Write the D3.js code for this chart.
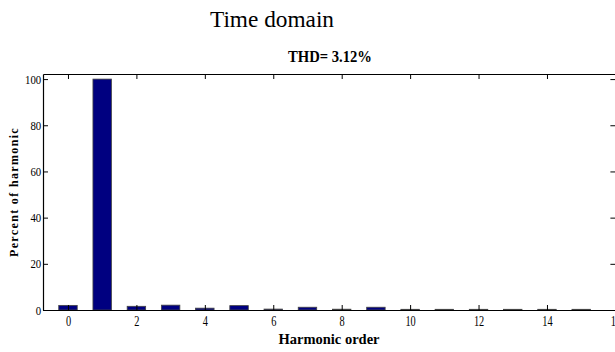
<!DOCTYPE html>
<html>
<head>
<meta charset="utf-8">
<script src="https://cdn.jsdelivr.net/npm/d3@7"></script>
<style>
  html, body { margin: 0; padding: 0; background: #fff; }
  svg { display: block; }
  text { font-family: "Liberation Serif", "Times New Roman", serif; fill: #000; }
</style>
</head>
<body>
<svg id="chart" width="615" height="352"></svg>
<script>
// Harmonic spectrum: order 0 (DC) up to 15, in percent of the fundamental
const orders = [0, 1, 2, 3, 4, 5, 6, 7, 8, 9, 10, 11, 12, 13, 14, 15];
const percents = [2.0, 100, 1.6, 2.1, 0.8, 1.9, 0.4, 1.2, 0.35, 1.2, 0.3, 0.3, 0.3, 0.3, 0.3, 0.3];
const xTicks = [0, 2, 4, 6, 8, 10, 12, 14, 16];
const yTicks = [0, 20, 40, 60, 80, 100];
const figTitle = "Time domain";
const thdLabel = "THD= 3.12%";
const xLabel = "Harmonic order";
const yLabel = "Percent of harmonic";

const svg = d3.select("#chart");
const plotLeft = 43, plotRight = 615.4, plotTop = 74, plotBottom = 310;

const x = d3.scaleLinear().domain([-0.73, 16]).range([plotLeft, plotRight]);
const y = d3.scaleLinear().domain([0, 102.2]).range([plotBottom, plotTop]);
const halfBar = 0.27;

// bars
svg.append("g").selectAll("rect")
  .data(orders.map((o, i) => ({ o, v: percents[i] })))
  .join("rect")
  .attr("x", d => x(d.o - halfBar))
  .attr("width", d => x(d.o + halfBar) - x(d.o - halfBar))
  .attr("y", d => y(d.v))
  .attr("height", d => y(0) - y(d.v))
  .attr("fill", "#000080")
  .attr("stroke", "#444")
  .attr("stroke-width", 0.8);

// axes with inward ticks on all four sides
const tickLen = 5;
const gx = svg.append("g").attr("transform", `translate(0,${plotBottom})`)
  .call(d3.axisBottom(x).tickValues(xTicks).tickSizeInner(-tickLen).tickSizeOuter(0).tickPadding(6));
const gxTop = svg.append("g").attr("transform", `translate(0,${plotTop})`)
  .call(d3.axisTop(x).tickValues(xTicks).tickSizeInner(-tickLen).tickSizeOuter(0).tickFormat(""));
const gy = svg.append("g").attr("transform", `translate(${plotLeft},0)`)
  .call(d3.axisLeft(y).tickValues(yTicks).tickSizeInner(-tickLen).tickSizeOuter(0).tickPadding(2));
const gyRight = svg.append("g").attr("transform", `translate(${plotRight},0)`)
  .call(d3.axisRight(y).tickValues(yTicks).tickSizeInner(-tickLen).tickSizeOuter(0).tickFormat(""));

[gx, gxTop, gy, gyRight].forEach(g => {
  g.select(".domain").attr("stroke", "#000").attr("stroke-width", 1.2);
  g.selectAll(".tick line").attr("stroke", "#000").attr("stroke-width", 1);
});

gx.selectAll(".tick text")
  .attr("font-family", "Liberation Serif").attr("font-size", 14)
  .attr("dy", "0.71em")
  .attr("transform", "scale(0.74,1)");
gy.selectAll(".tick text")
  .attr("font-family", "Liberation Serif").attr("font-size", 12)
  .attr("dy", "0.34em")
  .attr("transform", "scale(0.9,1)");

// titles and axis labels
svg.append("text")
  .attr("x", 272).attr("y", 27)
  .attr("text-anchor", "middle")
  .attr("font-size", 23.5)
  .attr("textLength", 124).attr("lengthAdjust", "spacingAndGlyphs")
  .text(figTitle);

svg.append("text")
  .attr("x", 330).attr("y", 61.5)
  .attr("text-anchor", "middle")
  .attr("font-size", 16.5).attr("font-weight", "bold")
  .attr("textLength", 84).attr("lengthAdjust", "spacingAndGlyphs")
  .text(thdLabel);

svg.append("text")
  .attr("x", 329).attr("y", 344)
  .attr("text-anchor", "middle")
  .attr("font-size", 15).attr("font-weight", "bold")
  .attr("textLength", 101).attr("lengthAdjust", "spacingAndGlyphs")
  .text(xLabel);

svg.append("text")
  .attr("transform", `translate(18,192) rotate(-90)`)
  .attr("text-anchor", "middle")
  .attr("font-size", 13.5).attr("font-weight", "bold")
  .attr("letter-spacing", 1.5)
  .attr("textLength", 130).attr("lengthAdjust", "spacingAndGlyphs")
  .text(yLabel);
</script>
</body>
</html>
